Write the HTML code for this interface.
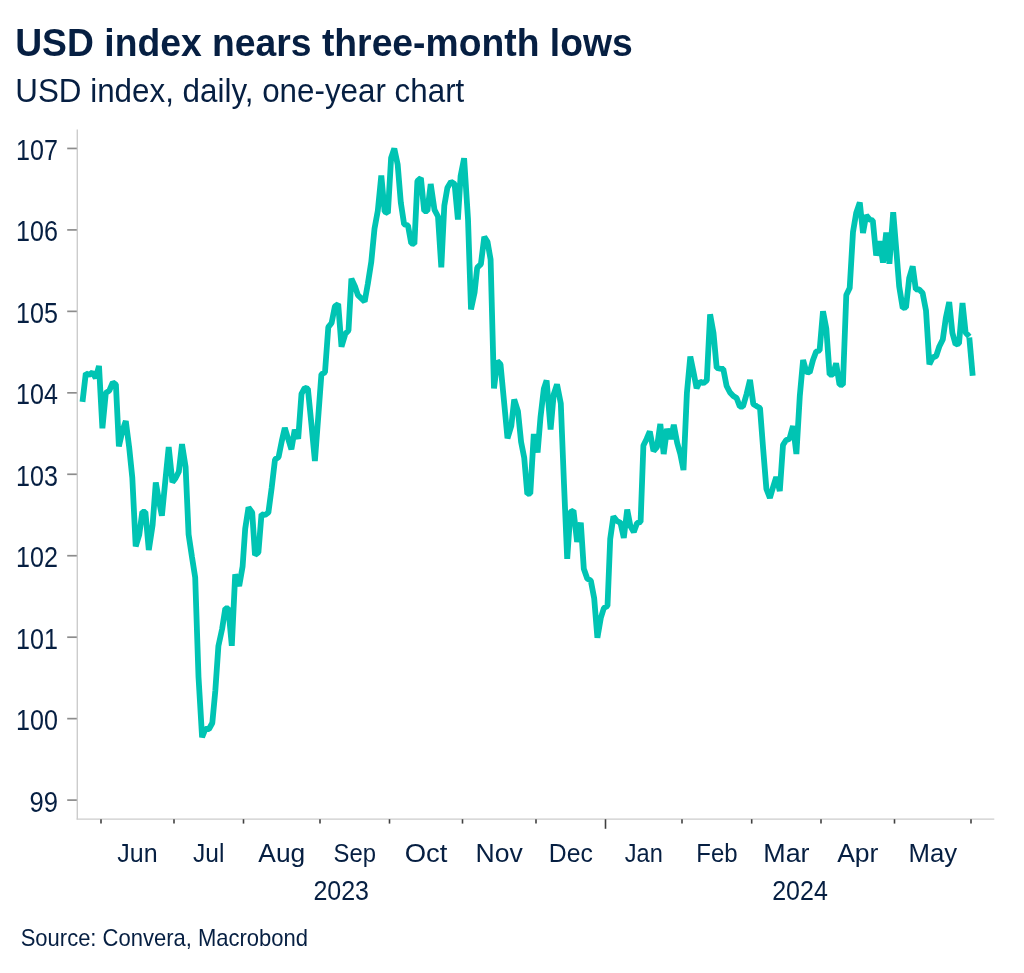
<!DOCTYPE html>
<html><head><meta charset="utf-8"><title>USD index nears three-month lows</title>
<style>html,body{margin:0;padding:0;background:#fff;}body{width:1024px;height:973px;overflow:hidden;font-family:"Liberation Sans",sans-serif;}svg{display:block;will-change:transform;}text{font-family:"Liberation Sans",sans-serif;fill:#061f42;}</style>
</head><body>
<svg width="1024" height="973" viewBox="0 0 1024 973">
<rect width="1024" height="973" fill="#ffffff"/>
<text id="title" x="15.2" y="55.9" font-size="39.2" font-weight="bold" textLength="617.5" lengthAdjust="spacingAndGlyphs">USD index nears three-month lows</text>
<text id="sub" x="15.3" y="102.4" font-size="32.4" textLength="449" lengthAdjust="spacingAndGlyphs">USD index, daily, one-year chart</text>
<line x1="77.3" y1="129.4" x2="77.3" y2="819.5" stroke="#cccccc" stroke-width="1.4"/>
<line x1="76.6" y1="819.1" x2="994.3" y2="819.1" stroke="#cccccc" stroke-width="1.4"/>
<line x1="67.2" y1="148.45" x2="76.8" y2="148.45" stroke="#8c8c8c" stroke-width="1.7"/>
<text class="yl" x="57.9" y="159.9" font-size="28.6" text-anchor="end" textLength="41.9" lengthAdjust="spacingAndGlyphs">107</text>
<line x1="67.2" y1="229.91" x2="76.8" y2="229.91" stroke="#8c8c8c" stroke-width="1.7"/>
<text class="yl" x="57.9" y="241.4" font-size="28.6" text-anchor="end" textLength="41.9" lengthAdjust="spacingAndGlyphs">106</text>
<line x1="67.2" y1="311.36" x2="76.8" y2="311.36" stroke="#8c8c8c" stroke-width="1.7"/>
<text class="yl" x="57.9" y="322.9" font-size="28.6" text-anchor="end" textLength="41.9" lengthAdjust="spacingAndGlyphs">105</text>
<line x1="67.2" y1="392.82" x2="76.8" y2="392.82" stroke="#8c8c8c" stroke-width="1.7"/>
<text class="yl" x="57.9" y="404.3" font-size="28.6" text-anchor="end" textLength="41.9" lengthAdjust="spacingAndGlyphs">104</text>
<line x1="67.2" y1="474.27" x2="76.8" y2="474.27" stroke="#8c8c8c" stroke-width="1.7"/>
<text class="yl" x="57.9" y="485.8" font-size="28.6" text-anchor="end" textLength="41.9" lengthAdjust="spacingAndGlyphs">103</text>
<line x1="67.2" y1="555.73" x2="76.8" y2="555.73" stroke="#8c8c8c" stroke-width="1.7"/>
<text class="yl" x="57.9" y="567.2" font-size="28.6" text-anchor="end" textLength="41.9" lengthAdjust="spacingAndGlyphs">102</text>
<line x1="67.2" y1="637.19" x2="76.8" y2="637.19" stroke="#8c8c8c" stroke-width="1.7"/>
<text class="yl" x="57.9" y="648.7" font-size="28.6" text-anchor="end" textLength="41.9" lengthAdjust="spacingAndGlyphs">101</text>
<line x1="67.2" y1="718.64" x2="76.8" y2="718.64" stroke="#8c8c8c" stroke-width="1.7"/>
<text class="yl" x="57.9" y="730.1" font-size="28.6" text-anchor="end" textLength="41.9" lengthAdjust="spacingAndGlyphs">100</text>
<line x1="67.2" y1="800.10" x2="76.8" y2="800.10" stroke="#8c8c8c" stroke-width="1.7"/>
<text class="yl" x="57.9" y="811.6" font-size="28.6" text-anchor="end" textLength="28.5" lengthAdjust="spacingAndGlyphs">99</text>
<line x1="101" y1="819.2" x2="101" y2="823.6" stroke="#404040" stroke-width="1.6"/>
<line x1="174" y1="819.2" x2="174" y2="823.6" stroke="#404040" stroke-width="1.6"/>
<line x1="243.5" y1="819.2" x2="243.5" y2="823.6" stroke="#404040" stroke-width="1.6"/>
<line x1="320" y1="819.2" x2="320" y2="823.6" stroke="#404040" stroke-width="1.6"/>
<line x1="389.5" y1="819.2" x2="389.5" y2="823.6" stroke="#404040" stroke-width="1.6"/>
<line x1="462.5" y1="819.2" x2="462.5" y2="823.6" stroke="#404040" stroke-width="1.6"/>
<line x1="536" y1="819.2" x2="536" y2="823.6" stroke="#404040" stroke-width="1.6"/>
<line x1="605.5" y1="819.2" x2="605.5" y2="828.8" stroke="#404040" stroke-width="1.6"/>
<line x1="682" y1="819.2" x2="682" y2="823.6" stroke="#404040" stroke-width="1.6"/>
<line x1="751.7" y1="819.2" x2="751.7" y2="823.6" stroke="#404040" stroke-width="1.6"/>
<line x1="821" y1="819.2" x2="821" y2="823.6" stroke="#404040" stroke-width="1.6"/>
<line x1="894.5" y1="819.2" x2="894.5" y2="823.6" stroke="#404040" stroke-width="1.6"/>
<line x1="971" y1="819.2" x2="971" y2="823.6" stroke="#404040" stroke-width="1.6"/>
<text class="ml" x="137.5" y="861.6" font-size="26.5" text-anchor="middle" textLength="40.3" lengthAdjust="spacingAndGlyphs">Jun</text>
<text class="ml" x="208.8" y="861.6" font-size="26.5" text-anchor="middle" textLength="31.4" lengthAdjust="spacingAndGlyphs">Jul</text>
<text class="ml" x="281.8" y="861.6" font-size="26.5" text-anchor="middle" textLength="46.9" lengthAdjust="spacingAndGlyphs">Aug</text>
<text class="ml" x="354.8" y="861.6" font-size="26.5" text-anchor="middle" textLength="42.4" lengthAdjust="spacingAndGlyphs">Sep</text>
<text class="ml" x="426.0" y="861.6" font-size="26.5" text-anchor="middle" textLength="42.7" lengthAdjust="spacingAndGlyphs">Oct</text>
<text class="ml" x="499.2" y="861.6" font-size="26.5" text-anchor="middle" textLength="47.3" lengthAdjust="spacingAndGlyphs">Nov</text>
<text class="ml" x="570.8" y="861.6" font-size="26.5" text-anchor="middle" textLength="44" lengthAdjust="spacingAndGlyphs">Dec</text>
<text class="ml" x="643.8" y="861.6" font-size="26.5" text-anchor="middle" textLength="38" lengthAdjust="spacingAndGlyphs">Jan</text>
<text class="ml" x="716.9" y="861.6" font-size="26.5" text-anchor="middle" textLength="41.3" lengthAdjust="spacingAndGlyphs">Feb</text>
<text class="ml" x="786.4" y="861.6" font-size="26.5" text-anchor="middle" textLength="46.3" lengthAdjust="spacingAndGlyphs">Mar</text>
<text class="ml" x="857.8" y="861.6" font-size="26.5" text-anchor="middle" textLength="41.3" lengthAdjust="spacingAndGlyphs">Apr</text>
<text class="ml" x="932.8" y="861.6" font-size="26.5" text-anchor="middle" textLength="48.6" lengthAdjust="spacingAndGlyphs">May</text>
<text class="yr" x="341.2" y="900.4" font-size="27.9" text-anchor="middle" textLength="55.6" lengthAdjust="spacingAndGlyphs">2023</text>
<text class="yr" x="800" y="900.4" font-size="27.9" text-anchor="middle" textLength="55.6" lengthAdjust="spacingAndGlyphs">2024</text>
<text id="src" x="20.7" y="946.4" font-size="23.6" textLength="287.3" lengthAdjust="spacingAndGlyphs">Source: Convera, Macrobond</text>
<polyline fill="none" stroke="#00c4b3" stroke-width="5.8" stroke-linejoin="bevel" stroke-linecap="butt" points="82.5,401.9 85.8,373.4 89.2,375.0 92.6,372.4 95.7,378.0 99.0,366.0 102.4,428.3 105.8,393.0 109.3,390.7 112.8,382.3 115.9,384.5 118.9,446.3 122.3,431.3 125.8,421.0 129.2,447.5 132.3,477.6 135.7,546.3 139.2,535.0 142.3,512.0 145.4,512.0 148.8,550.0 152.6,525.0 155.8,482.5 158.9,500.5 161.9,515.8 165.5,479.0 168.7,447.0 172.4,482.3 175.5,478.3 178.8,471.8 182.0,444.2 185.6,467.0 188.6,534.5 191.9,556.5 195.2,577.5 198.5,676.8 202.1,737.3 205.4,729.0 209.0,729.0 212.3,723.0 215.3,691.0 218.4,646.0 222.1,629.0 225.3,608.5 228.4,608.5 231.8,645.8 235.2,574.5 239.2,586.0 242.6,566.6 245.2,528.8 248.5,507.5 252.2,512.5 255.0,555.0 258.4,552.5 261.5,514.3 265.1,515.0 268.4,512.5 271.7,487.7 275.0,459.5 278.6,457.0 281.8,441.0 284.8,427.8 288.2,439.0 291.4,449.3 294.7,429.8 298.2,438.8 301.5,393.8 304.7,387.8 307.9,388.8 311.4,424.0 314.9,461.0 318.2,417.5 321.4,374.3 325.0,372.4 328.3,327.1 331.6,323.0 334.9,306.4 338.2,304.0 341.5,346.7 345.4,333.7 348.5,330.4 351.4,278.6 355.0,286.4 357.9,295.2 361.3,298.4 364.7,301.6 367.8,284.0 371.3,261.7 374.5,228.8 377.8,210.7 381.3,175.6 384.6,211.5 387.9,213.0 391.1,158.0 394.3,148.5 397.7,164.7 400.8,202.5 404.1,224.2 408.0,225.5 411.2,243.3 414.4,243.8 417.4,181.0 420.9,178.0 424.2,211.0 427.4,211.0 430.7,184.0 434.5,209.9 438.0,216.5 441.3,267.3 444.3,205.8 447.4,187.7 451.0,181.8 454.6,184.0 457.9,219.6 460.6,176.0 464.1,158.3 468.0,219.0 471.0,309.4 474.6,292.4 477.2,267.7 480.9,264.1 484.3,236.8 487.5,241.8 490.6,259.5 494.0,388.5 497.3,361.0 500.5,364.3 503.9,400.0 507.5,438.3 511.3,426.0 514.2,399.5 518.0,411.5 521.1,442.0 524.2,457.6 527.3,494.0 530.3,493.5 533.8,434.0 537.6,452.5 540.5,417.3 543.8,389.0 546.6,380.5 550.6,429.5 553.7,394.5 557.0,384.3 560.8,403.5 564.0,484.0 567.2,558.8 570.4,512.0 573.5,510.5 577.1,542.0 580.8,522.6 583.8,568.8 587.3,578.7 590.8,580.5 594.2,598.4 597.4,637.7 600.8,618.0 603.9,608.0 607.5,606.0 610.2,539.0 613.4,516.5 617.0,521.0 620.5,522.8 623.8,538.0 627.2,509.5 630.4,526.0 633.8,532.0 637.1,523.0 640.6,522.0 643.4,445.5 646.6,439.0 649.8,431.5 653.5,451.0 657.0,447.0 660.3,424.0 663.7,454.0 667.0,429.0 670.8,438.8 673.8,424.8 677.2,443.0 680.3,454.0 683.5,470.0 686.9,393.0 690.3,356.5 693.5,372.0 696.6,388.3 700.0,381.5 703.4,383.1 706.8,380.5 710.1,314.3 713.5,333.0 716.7,368.0 720.0,368.6 723.3,369.0 726.6,386.0 730.0,392.5 733.3,396.0 736.6,398.0 739.8,406.5 743.0,406.5 746.6,394.0 750.0,380.0 753.3,404.0 756.6,406.2 760.0,408.0 763.2,449.5 766.4,489.0 769.9,498.0 773.1,487.0 776.2,477.0 779.8,491.0 783.0,445.0 786.0,440.2 789.5,438.8 793.0,426.0 796.4,454.0 799.8,396.0 803.1,360.0 806.4,371.9 809.7,372.5 813.0,360.0 816.2,351.5 819.6,350.5 823.0,311.3 826.3,328.5 829.6,374.5 832.9,374.5 836.1,363.3 839.5,384.5 842.9,384.8 846.3,295.0 849.7,288.0 853.0,232.0 856.2,213.0 859.8,202.5 863.0,233.0 866.2,215.2 869.5,219.4 872.8,220.5 876.2,255.5 879.7,241.3 883.0,262.6 886.2,232.5 889.4,263.7 893.2,212.3 896.3,250.0 899.2,286.5 902.7,308.0 906.0,307.5 909.2,278.0 912.7,266.4 915.8,289.3 919.2,289.5 922.6,293.0 926.0,310.5 929.4,364.3 932.7,357.5 936.2,356.0 939.3,346.5 942.8,339.5 945.9,317.5 949.2,302.0 952.4,333.0 955.6,344.5 959.0,343.5 962.5,303.0 965.6,332.5 969.3,336.7"/>
<line x1="969.3" y1="337.59999999999997" x2="972.7" y2="375.8" stroke="#00c4b3" stroke-width="5.8"/>
</svg></body></html>
